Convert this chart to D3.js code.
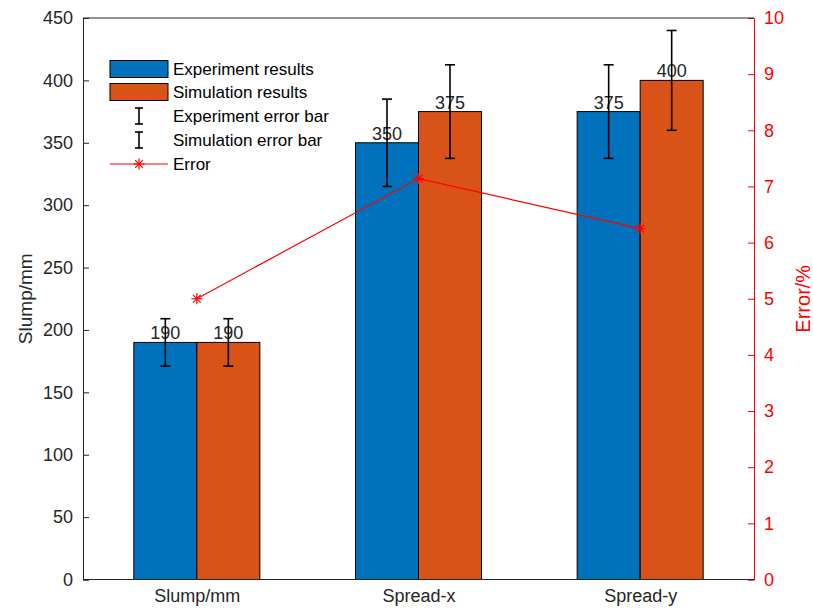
<!DOCTYPE html>
<html>
<head>
<meta charset="utf-8">
<script src="https://cdn.jsdelivr.net/npm/d3@7"></script>
<style>
  html, body { margin: 0; padding: 0; background: #fff; }
  svg { display: block; font-family: "Liberation Sans", Arial, Helvetica, sans-serif; }
</style>
</head>
<body>
<svg id="chart" width="813" height="612"></svg>
<script>
// Slump and spread measurements: experiment vs. simulation
const categories = ["Slump/mm", "Spread-x", "Spread-y"];
const experiment = [190, 350, 375];
const simulation = [190, 375, 400];
const experimentErr = [19, 35, 37.5];
const simulationErr = [19, 37.5, 40];
const errorPct = [5.0, 7.14, 6.25];
const leftTicks = [0, 50, 100, 150, 200, 250, 300, 350, 400, 450];
const rightTicks = [0, 1, 2, 3, 4, 5, 6, 7, 8, 9, 10];
const legendLabels = ["Experiment results", "Simulation results", "Experiment error bar", "Simulation error bar", "Error"];

const blue = "#0072BD", orange = "#D95319", red = "#FF0000", ink = "#262626";
const box = { left: 83, right: 754, top: 18, bottom: 579.5 };
const fs = 18;
const svg = d3.select("#chart");

const x = d3.scalePoint().domain(categories).range([box.left + 3, box.right - 3]).padding(0.5);
const yL = d3.scaleLinear().domain([0, 450]).range([box.bottom, box.top]);
const yR = d3.scaleLinear().domain([0, 10]).range([box.bottom, box.top]);
const barW = 63;

// bars
const groups = categories.map((c, i) => ({ c, i }));
const bars = [];
groups.forEach(g => {
  bars.push({ x0: x(g.c) - barW, v: experiment[g.i], e: experimentErr[g.i], color: blue });
  bars.push({ x0: x(g.c), v: simulation[g.i], e: simulationErr[g.i], color: orange });
});
svg.append("g").selectAll("rect").data(bars).join("rect")
  .attr("x", d => d.x0).attr("width", barW)
  .attr("y", d => yL(d.v)).attr("height", d => yL(0) - yL(d.v))
  .attr("fill", d => d.color).attr("stroke", "#000").attr("stroke-width", 1);

// value labels
svg.append("g").selectAll("text").data(bars).join("text")
  .attr("x", d => d.x0 + barW / 2).attr("y", d => yL(d.v) - 3)
  .attr("text-anchor", "middle").attr("font-size", fs).attr("fill", ink)
  .text(d => d.v);

// error bars
const eg = svg.append("g").attr("stroke", "#000").attr("stroke-width", 1.6).attr("fill", "none");
bars.forEach(d => {
  const cx = d.x0 + barW / 2, t = yL(d.v + d.e), b = yL(d.v - d.e);
  eg.append("line").attr("x1", cx).attr("x2", cx).attr("y1", t).attr("y2", b);
  eg.append("line").attr("x1", cx - 5).attr("x2", cx + 5).attr("y1", t).attr("y2", t);
  eg.append("line").attr("x1", cx - 5).attr("x2", cx + 5).attr("y1", b).attr("y2", b);
});

// axes
const leftAxis = d3.axisLeft(yL).tickValues(leftTicks).tickSize(-6).tickPadding(10);
const gl = svg.append("g").attr("transform", `translate(${box.left},0)`).call(leftAxis);
gl.select(".domain").attr("stroke", ink);
gl.selectAll(".tick line").attr("stroke", ink);
gl.selectAll(".tick text").attr("font-size", fs).attr("fill", ink).attr("font-family", null);

const rightAxis = d3.axisRight(yR).tickValues(rightTicks).tickSize(-6).tickPadding(10);
const gr = svg.append("g").attr("transform", `translate(${box.right},0)`).call(rightAxis);
gr.select(".domain").attr("stroke", red);
gr.selectAll(".tick line").attr("stroke", red);
gr.selectAll(".tick text").attr("font-size", fs).attr("fill", red).attr("font-family", null);

const bottomAxis = d3.axisBottom(x).tickSize(0).tickPadding(10);
const gb = svg.append("g").attr("transform", `translate(0,${box.bottom})`).call(bottomAxis);
gb.select(".domain").attr("stroke", ink).attr("d", `M${box.left},0H${box.right}`);
gb.selectAll(".tick text").attr("font-size", fs).attr("fill", ink).attr("font-family", null).attr("dy", "0.71em");

svg.append("line").attr("x1", box.left).attr("x2", box.right).attr("y1", box.top).attr("y2", box.top)
  .attr("stroke", ink).attr("stroke-width", 1);

// axis titles
svg.append("text").attr("transform", `translate(32,${(box.top + box.bottom) / 2}) rotate(-90)`)
  .attr("text-anchor", "middle").attr("font-size", 19).attr("fill", ink).text("Slump/mm");
svg.append("text").attr("transform", `translate(810,${(box.top + box.bottom) / 2}) rotate(-90)`)
  .attr("text-anchor", "middle").attr("font-size", 20).attr("fill", red).text("Error/%");

// asterisk marker
function star(g, cx, cy, r) {
  const s = g.append("g").attr("stroke", red).attr("stroke-width", 1.2);
  s.append("line").attr("x1", cx - r).attr("x2", cx + r).attr("y1", cy).attr("y2", cy);
  s.append("line").attr("x1", cx).attr("x2", cx).attr("y1", cy - r).attr("y2", cy + r);
  const k = r * 0.7;
  s.append("line").attr("x1", cx - k).attr("x2", cx + k).attr("y1", cy - k).attr("y2", cy + k);
  s.append("line").attr("x1", cx - k).attr("x2", cx + k).attr("y1", cy + k).attr("y2", cy - k);
}

// error line on the right axis
const line = d3.line().x((d, i) => x(categories[i])).y(d => yR(d));
const lg = svg.append("g");
lg.append("path").datum(errorPct).attr("d", line).attr("fill", "none").attr("stroke", red).attr("stroke-width", 1.2);
errorPct.forEach((v, i) => star(lg, x(categories[i]), yR(v), 5.5));

// legend
const leg = svg.append("g");
const lx = 110, lw = 58, tx = 173, rowY = [69, 92, 116, 140, 164];
leg.append("rect").attr("x", lx).attr("y", rowY[0] - 8.5).attr("width", lw).attr("height", 17)
  .attr("fill", blue).attr("stroke", "#000");
leg.append("rect").attr("x", lx).attr("y", rowY[1] - 8.5).attr("width", lw).attr("height", 17)
  .attr("fill", orange).attr("stroke", "#000");
[rowY[2], rowY[3]].forEach(cy => {
  const cx = lx + lw / 2, t = cy - 8, b = cy + 8;
  const e = leg.append("g").attr("stroke", "#000").attr("stroke-width", 1.6);
  e.append("line").attr("x1", cx).attr("x2", cx).attr("y1", t).attr("y2", b);
  e.append("line").attr("x1", cx - 4).attr("x2", cx + 4).attr("y1", t).attr("y2", t);
  e.append("line").attr("x1", cx - 4).attr("x2", cx + 4).attr("y1", b).attr("y2", b);
});
leg.append("line").attr("x1", lx).attr("x2", lx + lw).attr("y1", rowY[4]).attr("y2", rowY[4])
  .attr("stroke", red).attr("stroke-width", 1.2);
star(leg, lx + lw / 2, rowY[4], 5.5);
leg.selectAll("text.lab").data(legendLabels).join("text").attr("class", "lab")
  .attr("x", tx).attr("y", (d, i) => rowY[i]).attr("dy", "0.35em")
  .attr("font-size", 17).attr("fill", "#000").text(d => d);
</script>
</body>
</html>
